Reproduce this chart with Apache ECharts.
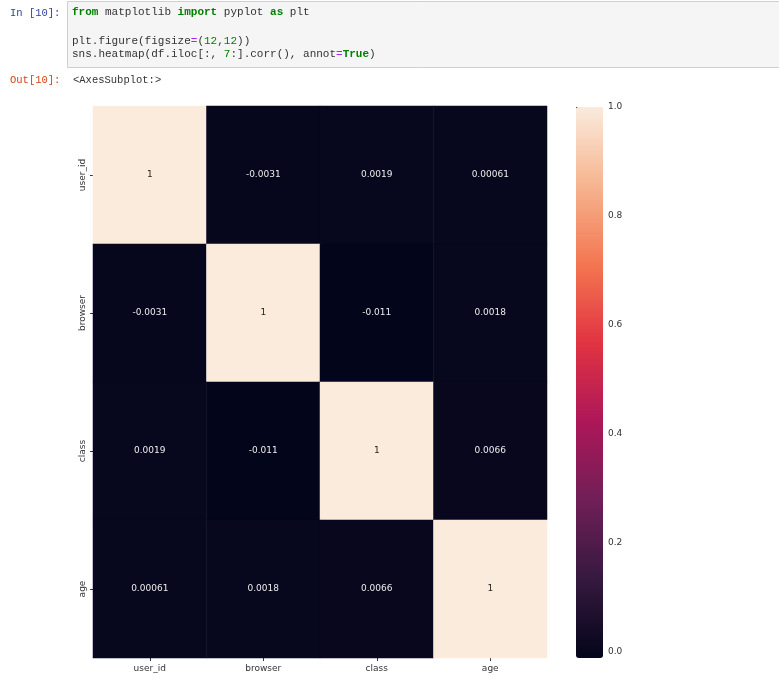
<!DOCTYPE html>
<html>
<head>
<meta charset="utf-8">
<script src="https://cdn.jsdelivr.net/npm/echarts@6/dist/echarts.min.js"></script>
<style>
html, body { margin: 0; padding: 0; background: #fff; }
#chart { width: 779px; height: 691px; }
</style>
</head>
<body>
<div id="chart"></div>
<script>
// columns of df.iloc[:, 7:].corr()
const cols = ['user_id', 'browser', 'class', 'age'];
// correlation matrix, row by row
const rowUser = [1, -0.0031, 0.0019, 0.00061];
const rowBrowser = [-0.0031, 1, -0.011, 0.0018];
const rowClass = [0.0019, -0.011, 1, 0.0066];
const rowAge = [0.00061, 0.0018, 0.0066, 1];
const rows = [rowUser, rowBrowser, rowClass, rowAge];
// colorbar ticks
const barTicks = [0, 0.2, 0.4, 0.6, 0.8, 1.0];
const vMin = -0.011, vMax = 1;
// seaborn "rocket"
const rocket = ['#03051a', '#35193e', '#701f57', '#ad1759', '#e13342', '#f37651', '#f6b48f', '#faebdd'];

let cells = [];
rows.forEach((r, yi) => {
    r.forEach((v, xi) => {
        cells.push({
            value: [xi, yi, v],
            label: { color: v > 0.5 ? '#262626' : '#ececec' }
        });
    });
});

const mono = '"Liberation Mono", "DejaVu Sans Mono", monospace';
const codeRich = {
    kw: { fontFamily: mono, fontSize: 11, fill: '#008000', fontWeight: 'bold' },
    op: { fontFamily: mono, fontSize: 11, fill: '#aa22ff' },
    num: { fontFamily: mono, fontSize: 11, fill: '#008000' },
    t: { fontFamily: mono, fontSize: 11, fill: '#333333' }
};

let chart = echarts.init(document.getElementById('chart'));
chart.setOption({
    animation: false,
    backgroundColor: '#ffffff',
    textStyle: { fontFamily: '"DejaVu Sans", sans-serif' },
    graphic: [
        {
            type: 'rect', shape: { x: 67.5, y: 1.5, width: 720, height: 66 },
            style: { fill: '#f5f5f5', stroke: '#cfcfcf', lineWidth: 1 }
        },
        {
            type: 'text', left: 10, top: 8,
            style: { text: 'In [10]:', font: '10.5px ' + mono, fill: '#303f9f' }
        },
        {
            type: 'text', left: 72, top: 7,
            style: { text: '{kw|from}{t| matplotlib }{kw|import}{t| pyplot }{kw|as}{t| plt}', rich: codeRich }
        },
        {
            type: 'text', left: 72, top: 36,
            style: { text: '{t|plt.figure(figsize}{op|=}{t|(}{num|12}{t|,}{num|12}{t|))}', rich: codeRich }
        },
        {
            type: 'text', left: 72, top: 49,
            style: { text: '{t|sns.heatmap(df.iloc[:, }{num|7}{t|:].corr(), annot}{op|=}{kw|True}{t|)}', rich: codeRich }
        },
        {
            type: 'text', left: 10, top: 75,
            style: { text: 'Out[10]:', font: '10.5px ' + mono, fill: '#d84315' }
        },
        {
            type: 'text', left: 73, top: 75,
            style: { text: '<AxesSubplot:>', font: '10.5px ' + mono, fill: '#333333' }
        }
    ],
    grid: [
        { left: 93, top: 106, width: 454, height: 552 },
        { left: 576, top: 107, width: 27, height: 551 }
    ],
    xAxis: [
        {
            type: 'category', data: cols, gridIndex: 0,
            axisLine: { show: false },
            axisTick: { show: true, alignWithLabel: true, length: 3, lineStyle: { color: '#333' } },
            axisLabel: { fontSize: 9, color: '#333', margin: 6 },
            splitArea: { show: false }
        },
        { type: 'value', gridIndex: 1, show: false }
    ],
    yAxis: [
        {
            type: 'category', data: cols, gridIndex: 0, inverse: true,
            axisLine: { show: false },
            axisTick: { show: true, alignWithLabel: true, length: 3, lineStyle: { color: '#333' } },
            axisLabel: { fontSize: 9, color: '#333', rotate: 90, margin: 6 },
            splitArea: { show: false }
        },
        {
            type: 'value', gridIndex: 1, position: 'right', min: vMin, max: vMax,
            axisLine: { show: false },
            splitLine: { show: false },
            axisTick: { show: true, length: 3, customValues: barTicks, lineStyle: { color: '#333' } },
            axisLabel: {
                fontSize: 9, color: '#333', margin: 5, customValues: barTicks,
                formatter: v => v.toFixed(1)
            }
        }
    ],
    visualMap: {
        type: 'continuous', min: vMin, max: vMax, seriesIndex: 0,
        calculable: false, hoverLink: false, realtime: false,
        left: 576, top: 107, itemWidth: 27, itemHeight: 551, padding: 0,
        inRange: { color: rocket }
    },
    series: [
        {
            type: 'heatmap', xAxisIndex: 0, yAxisIndex: 0,
            data: cells,
            label: {
                show: true, fontSize: 9,
                formatter: p => String(Number(p.value[2].toPrecision(2)))
            },
            emphasis: { disabled: true }
        }
    ]
});
</script>
</body>
</html>
